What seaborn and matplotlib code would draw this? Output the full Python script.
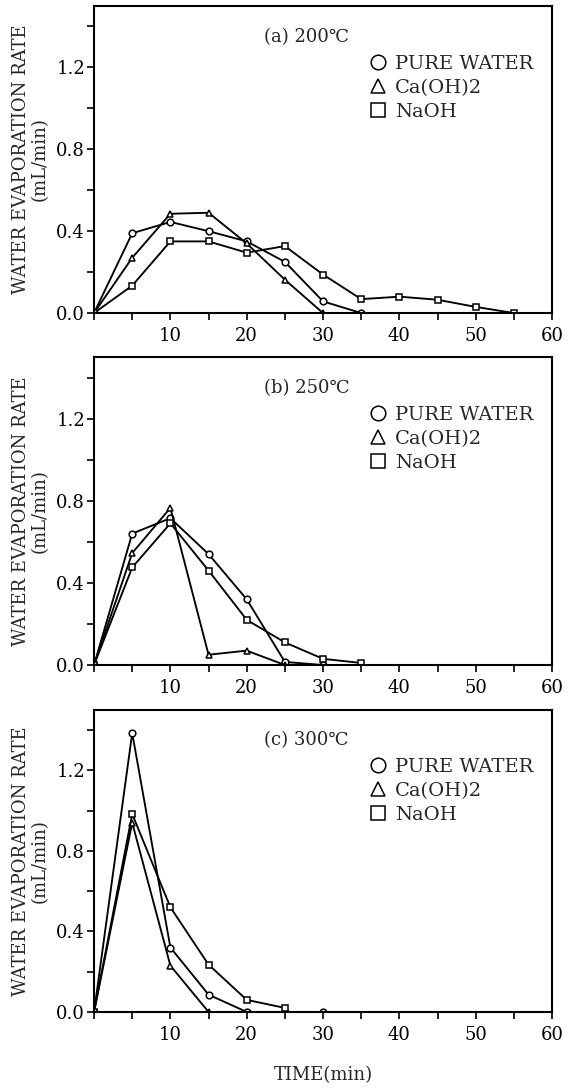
import numpy as np
import pandas as pd
import seaborn as sns
import matplotlib.pyplot as plt
import matplotlib.ticker as ticker
from matplotlib.lines import Line2D

# ---- data ----
series_names = ["PURE WATER", "Ca(OH)2", "NaOH"]
series_markers = ["o", "^", "s"]

# (a) 200 C
t_a_water = [0, 5, 10, 15, 20, 25, 30, 35]
v_a_water = [0.0, 0.39, 0.445, 0.40, 0.35, 0.25, 0.057, 0.0]
t_a_caoh = [0, 5, 10, 15, 20, 25, 30]
v_a_caoh = [0.0, 0.27, 0.485, 0.49, 0.34, 0.163, 0.0]
t_a_naoh = [0, 5, 10, 15, 20, 25, 30, 35, 40, 45, 50, 55]
v_a_naoh = [0.0, 0.134, 0.35, 0.35, 0.295, 0.327, 0.188, 0.068, 0.08, 0.065, 0.03, 0.0]

# (b) 250 C
t_b_water = [0, 5, 10, 15, 20, 25, 30]
v_b_water = [0.0, 0.64, 0.715, 0.54, 0.32, 0.015, 0.0]
t_b_caoh = [0, 5, 10, 15, 20, 25]
v_b_caoh = [0.0, 0.545, 0.765, 0.05, 0.07, 0.0]
t_b_naoh = [0, 5, 10, 15, 20, 25, 30, 35]
v_b_naoh = [0.0, 0.475, 0.69, 0.46, 0.22, 0.11, 0.03, 0.01]

# (c) 300 C
t_c_water = [0, 5, 10, 15, 20, 25, 30]
v_c_water = [0.0, 1.385, 0.32, 0.086, 0.0, 0.0, 0.0]
t_c_caoh = [0, 5, 10, 15]
v_c_caoh = [0.0, 0.94, 0.23, 0.0]
t_c_naoh = [0, 5, 10, 15, 20, 25]
v_c_naoh = [0.0, 0.983, 0.52, 0.235, 0.06, 0.02]

panel_titles = ["(a) 200\u2103", "(b) 250\u2103", "(c) 300\u2103"]
x_ticklabels = [10, 20, 30, 40, 50, 60]
y_ticklabels = [0.0, 0.4, 0.8, 1.2]

panels = [
    [(t_a_water, v_a_water), (t_a_caoh, v_a_caoh), (t_a_naoh, v_a_naoh)],
    [(t_b_water, v_b_water), (t_b_caoh, v_b_caoh), (t_b_naoh, v_b_naoh)],
    [(t_c_water, v_c_water), (t_c_caoh, v_c_caoh), (t_c_naoh, v_c_naoh)],
]

sns.set_style("ticks")
plt.rcParams["font.family"] = ["DejaVu Serif", "DejaVu Sans"]
fs = 13

fig = plt.figure(figsize=(5.7, 10.9), dpi=100)

# axes boxes in figure fractions (left, bottom, width, height)
boxes = [
    (0.165, 0.7128, 0.8035, 0.2817),
    (0.165, 0.3899, 0.8035, 0.2826),
    (0.165, 0.0716, 0.8035, 0.2771),
]

for i, (box, data) in enumerate(zip(boxes, panels)):
    ax = fig.add_axes(box)
    for (t, v), name, mk in zip(data, series_names, series_markers):
        df = pd.DataFrame({"t": t, "v": v})
        sns.lineplot(
            data=df, x="t", y="v", ax=ax, color="black", linewidth=1.35,
            marker=mk, markersize=4.8, markerfacecolor="white",
            markeredgecolor="black", markeredgewidth=1.1, sort=False,
        )

    ax.set_xlim(0, 60)
    ax.set_ylim(0, 1.5)
    ax.set_xticks(x_ticklabels)
    ax.xaxis.set_minor_locator(ticker.MultipleLocator(5))
    ax.set_yticks(y_ticklabels)
    ax.yaxis.set_major_formatter(ticker.FormatStrFormatter("%.1f"))
    ax.yaxis.set_minor_locator(ticker.MultipleLocator(0.2))
    ax.tick_params(which="both", direction="out", length=5, width=1.2,
                   colors="black", labelsize=fs)
    ax.tick_params(axis="y", pad=1.5)
    ax.tick_params(axis="x", pad=5)

    for sp in ax.spines.values():
        sp.set_visible(True)
        sp.set_linewidth(1.5)
        sp.set_color("black")

    ax.set_ylabel("WATER EVAPORATION RATE\n(mL/min)", fontsize=fs,
                  labelpad=5, linespacing=1.1)
    ax.set_xlabel("")

    ax.text(0.37, 0.9, panel_titles[i], transform=ax.transAxes,
            fontsize=fs, ha="left", va="center")

    handles = [
        Line2D([], [], marker=mk, linestyle="none", markersize=10.5,
               markerfacecolor="white", markeredgecolor="black",
               markeredgewidth=1.1)
        for mk in series_markers
    ]
    ax.legend(handles, series_names, loc="upper left",
              bbox_to_anchor=(0.6, 0.84), frameon=False, fontsize=14,
              handlelength=0.9, handletextpad=0.45, labelspacing=0.3,
              borderpad=0.0, borderaxespad=0.0)

fig.text(0.567, 0.0135, "TIME(min)", fontsize=fs, ha="center", va="center")

fig.savefig("out.png", dpi=100)
